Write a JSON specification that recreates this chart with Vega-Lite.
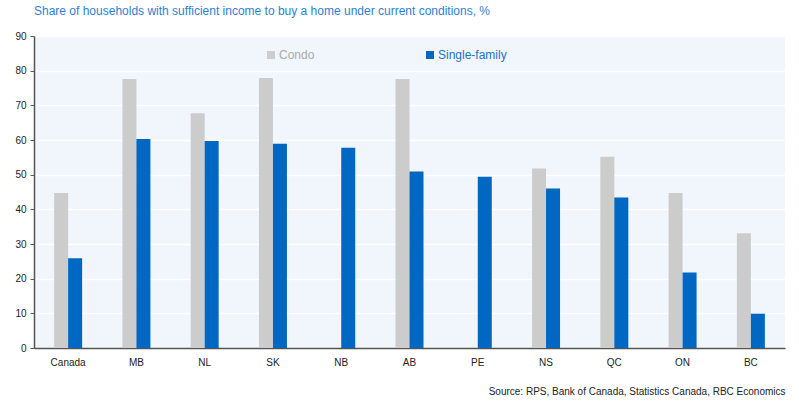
{
  "$schema": "https://vega.github.io/schema/vega-lite/v6.json",
  "width": 751,
  "height": 312,
  "autosize": {"type": "none"},
  "padding": {"left": 34, "top": 36, "right": 14, "bottom": 54},
  "background": "#ffffff",
  "title": {
    "text": "Share of households with sufficient income to buy a home under current conditions, %",
    "anchor": "start",
    "frame": "group",
    "font": "Liberation Sans",
    "fontSize": 12,
    "fontWeight": "normal",
    "color": "#2e7fd6",
    "offset": 13
  },
  "data": {
    "values": [
      {"region": "Canada", "type": "Condo", "value": 44.7},
      {"region": "Canada", "type": "Single-family", "value": 25.9},
      {"region": "MB", "type": "Condo", "value": 77.6},
      {"region": "MB", "type": "Single-family", "value": 60.3},
      {"region": "NL", "type": "Condo", "value": 67.7},
      {"region": "NL", "type": "Single-family", "value": 59.7},
      {"region": "SK", "type": "Condo", "value": 77.9},
      {"region": "SK", "type": "Single-family", "value": 58.9},
      {"region": "NB", "type": "Single-family", "value": 57.8},
      {"region": "AB", "type": "Condo", "value": 77.6},
      {"region": "AB", "type": "Single-family", "value": 50.9},
      {"region": "PE", "type": "Single-family", "value": 49.4},
      {"region": "NS", "type": "Condo", "value": 51.8},
      {"region": "NS", "type": "Single-family", "value": 46.0},
      {"region": "QC", "type": "Condo", "value": 55.2},
      {"region": "QC", "type": "Single-family", "value": 43.4},
      {"region": "ON", "type": "Condo", "value": 44.7},
      {"region": "ON", "type": "Single-family", "value": 21.8},
      {"region": "BC", "type": "Condo", "value": 33.1},
      {"region": "BC", "type": "Single-family", "value": 9.9}
    ]
  },
  "mark": {"type": "bar"},
  "encoding": {
    "x": {
      "field": "region",
      "type": "nominal",
      "sort": ["Canada", "MB", "NL", "SK", "NB", "AB", "PE", "NS", "QC", "ON", "BC"],
      "scale": {"paddingInner": 0.59, "paddingOuter": 0.295},
      "axis": {
        "title": "Source: RPS, Bank of Canada, Statistics Canada, RBC Economics",
        "titleAnchor": "end",
        "titleAlign": "right",
        "titleFont": "Liberation Sans",
        "titleFontSize": 10,
        "titleFontWeight": "normal",
        "titleColor": "#222222",
        "titlePadding": 19,
        "labelAngle": 0,
        "labelFont": "Liberation Sans",
        "labelFontSize": 10,
        "labelColor": "#222222",
        "labelPadding": 9,
        "ticks": false,
        "domainColor": "#555555",
        "domainWidth": 1.5,
        "grid": false
      }
    },
    "xOffset": {
      "field": "type",
      "type": "nominal",
      "sort": ["Condo", "Single-family"],
      "scale": {"paddingInner": 0, "paddingOuter": 0}
    },
    "y": {
      "field": "value",
      "type": "quantitative",
      "scale": {"domain": [0, 90], "nice": false},
      "axis": {
        "title": null,
        "values": [0, 10, 20, 30, 40, 50, 60, 70, 80, 90],
        "labelFont": "Liberation Sans",
        "labelFontSize": 10,
        "labelColor": "#222222",
        "labelPadding": 4,
        "tickSize": 4,
        "tickColor": "#555555",
        "domainColor": "#555555",
        "domainWidth": 1.5,
        "grid": true,
        "gridColor": "#ffffff",
        "gridWidth": 1.5
      }
    },
    "color": {
      "field": "type",
      "type": "nominal",
      "sort": ["Condo", "Single-family"],
      "scale": {"domain": ["Condo", "Single-family"], "range": ["#cccccc", "#0067c2"]},
      "legend": {
        "title": null,
        "orient": "none",
        "legendX": 231,
        "legendY": 13,
        "direction": "horizontal",
        "columns": 2,
        "columnPadding": 109,
        "symbolType": "square",
        "symbolSize": 64,
        "symbolStrokeWidth": 0,
        "symbolOffset": 0,
        "labelOffset": 2,
        "labelFont": "Liberation Sans",
        "labelFontSize": 12,
        "encode": {
          "labels": {
            "update": {
              "fill": {"signal": "datum.value === 'Condo' ? '#a9a9a9' : '#1f72c8'"}
            }
          }
        }
      }
    }
  },
  "config": {
    "view": {"fill": "#f0f6fc", "stroke": null}
  }
}
